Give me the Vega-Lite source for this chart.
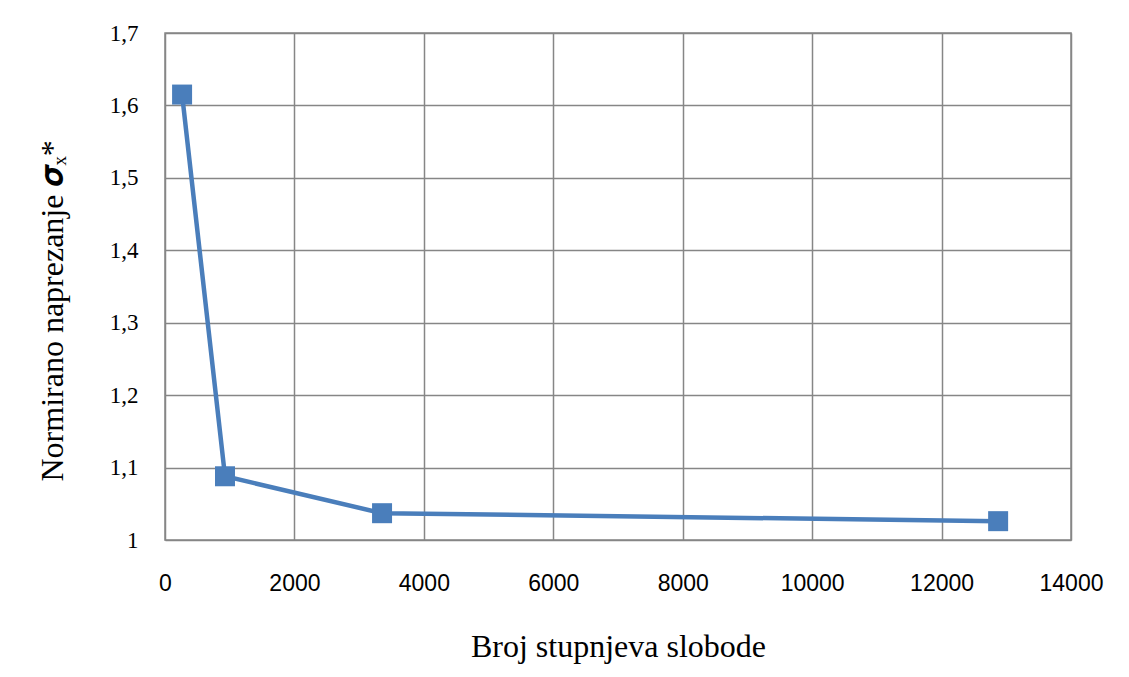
{
  "$schema": "https://vega.github.io/schema/vega-lite/v6.json",
  "autosize": "none",
  "width": 906,
  "height": 507,
  "padding": {"left": 165, "top": 33, "right": 58, "bottom": 137},
  "background": "white",
  "config": {
    "view": {"stroke": "#868686", "strokeWidth": 1.5},
    "axis": {"grid": true, "gridColor": "#868686", "gridWidth": 1.5, "gridOpacity": 1, "domain": false, "ticks": false}
  },
  "data": {
    "values": [
      {"dof": 264, "sigma": 1.615},
      {"dof": 927, "sigma": 1.088},
      {"dof": 3354, "sigma": 1.037},
      {"dof": 12874, "sigma": 1.026}
    ]
  },
  "encoding": {
    "x": {
      "field": "dof", "type": "quantitative",
      "scale": {"domain": [0, 14000], "nice": false, "zero": false},
      "axis": {
        "values": [0, 2000, 4000, 6000, 8000, 10000, 12000, 14000],
        "format": "d",
        "labelFlush": false,
        "labelOverlap": false,
        "title": "Broj stupnjeva slobode",
        "labelFont": "Liberation Sans", "labelFontSize": 23, "labelColor": "black",
        "labelPadding": 32,
        "titleFont": "Liberation Serif", "titleFontSize": 32, "titleFontWeight": "normal", "titleColor": "black",
        "titlePadding": 36
      }
    },
    "y": {
      "field": "sigma", "type": "quantitative",
      "scale": {"domain": [1, 1.7], "nice": false, "zero": false},
      "axis": {
        "values": [1, 1.1, 1.2, 1.3, 1.4, 1.5, 1.6, 1.7],
        "labelExpr": "datum.value == 1 ? '1' : replace(format(datum.value, '.1f'), '.', ',')",
        "labelFlush": false,
        "labelOverlap": false,
        "title": "Normirano naprezanje 𝝈ₓ*",
        "labelFont": "Liberation Serif", "labelFontSize": 23, "labelColor": "black",
        "labelPadding": 27,
        "titleFont": "Liberation Serif", "titleFontSize": 32, "titleFontWeight": "normal", "titleColor": "black",
        "titleAngle": 270,
        "titleAlign": "left",
        "titleBaseline": "alphabetic",
        "titleX": -103,
        "titleY": 448
      }
    }
  },
  "layer": [
    {"mark": {"type": "line", "color": "#4A7EBB", "strokeWidth": 4.5}},
    {"mark": {"type": "point", "shape": "square", "filled": true, "opacity": 1, "color": "#4A7EBB", "size": 400}}
  ]
}
